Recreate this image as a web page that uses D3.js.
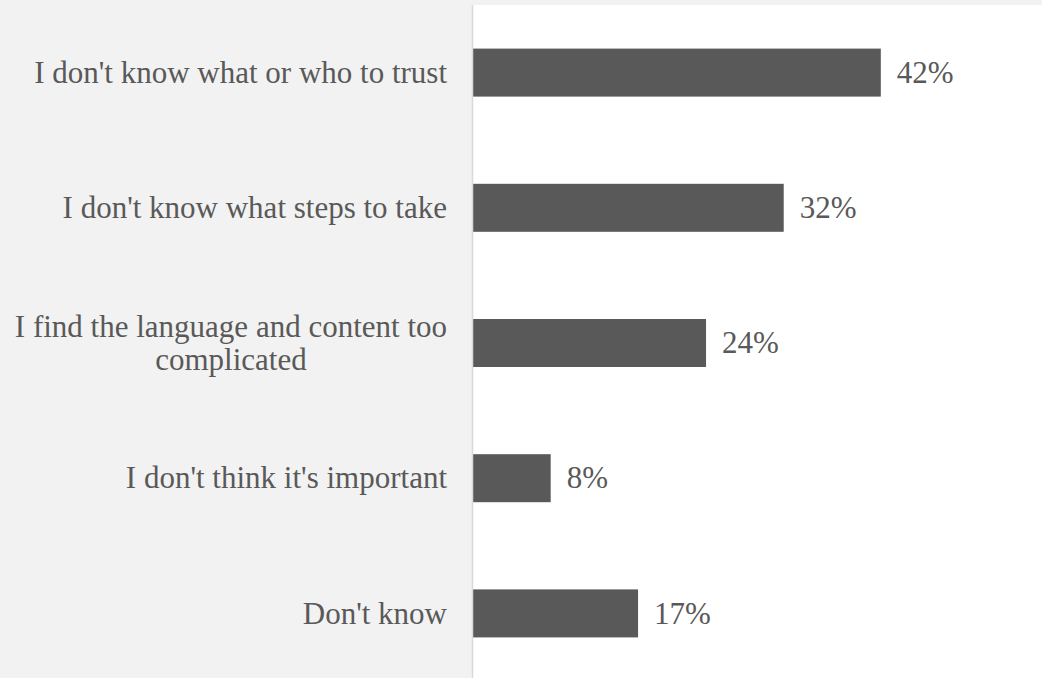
<!DOCTYPE html>
<html>
<head>
<meta charset="utf-8">
<script src="https://cdn.jsdelivr.net/npm/d3@7"></script>
<style>
  html, body { margin: 0; padding: 0; background: #f2f2f2; }
  svg { display: block; }
</style>
</head>
<body>
<svg id="chart" width="1042" height="678"></svg>
<script>
// Survey responses: reasons given, share of respondents (%)
const categories = [
  "I don't know what or who to trust",
  "I don't know what steps to take",
  "I find the language and content too complicated",
  "I don't think it's important",
  "Don't know"
];
const values = [42, 32, 24, 8, 17];
const valueLabels = values.map(v => v + "%");

const W = 1042, H = 678;
const plot = { left: 473, top: 5, right: 1042, bottom: 681 };
const font = "'Liberation Serif', 'Times New Roman', serif";
const textColor = "#595959";
const fontSize = 31;

const svg = d3.select("#chart");

svg.append("rect").attr("width", W).attr("height", H).attr("fill", "#f2f2f2");
svg.append("rect")
  .attr("x", plot.left).attr("y", plot.top)
  .attr("width", plot.right - plot.left).attr("height", H - plot.top)
  .attr("fill", "#ffffff");

const x = d3.scaleLinear().domain([0, 58.6]).range([plot.left, plot.right]);
const y = d3.scaleBand().domain(categories).range([plot.top, plot.bottom]).paddingInner(0.645).paddingOuter(0.3225);

// bars
svg.append("g").selectAll("rect").data(categories).join("rect")
  .attr("x", x(0))
  .attr("y", d => y(d))
  .attr("width", (d, i) => x(values[i]) - x(0))
  .attr("height", y.bandwidth())
  .attr("fill", "#595959");

// value labels
svg.append("g").selectAll("text").data(categories).join("text")
  .attr("x", (d, i) => x(values[i]) + 16)
  .attr("y", d => y(d) + y.bandwidth() / 2)
  .attr("dy", "0.33em")
  .attr("font-family", font)
  .attr("font-size", fontSize)
  .attr("fill", textColor)
  .text((d, i) => valueLabels[i]);

// category axis line
svg.append("line")
  .attr("x1", plot.left - 0.5).attr("x2", plot.left - 0.5)
  .attr("y1", plot.top).attr("y2", H)
  .attr("stroke", "#d9d9d9").attr("stroke-width", 1.5);

// category labels, wrapped to fit the left panel; lines centred within a right-aligned block
const labelRight = 447;
const maxWidth = 440;
const lineHeight = 33;
const measure = svg.append("text").attr("font-family", font).attr("font-size", fontSize).attr("visibility", "hidden");
function textWidth(s) { measure.text(s); return measure.node().getComputedTextLength(); }

const labelG = svg.append("g");
categories.forEach(cat => {
  const words = cat.split(" ");
  const lines = [];
  let cur = "";
  words.forEach(w => {
    const t = cur ? cur + " " + w : w;
    if (textWidth(t) > maxWidth && cur) { lines.push(cur); cur = w; } else cur = t;
  });
  lines.push(cur);
  const blockW = d3.max(lines, textWidth);
  const cx = labelRight - blockW / 2;
  const cy = y(cat) + y.bandwidth() / 2;
  const t = labelG.append("text")
    .attr("font-family", font)
    .attr("font-size", fontSize)
    .attr("fill", textColor)
    .attr("text-anchor", lines.length > 1 ? "middle" : "end");
  lines.forEach((ln, i) => {
    t.append("tspan")
      .attr("x", lines.length > 1 ? cx : labelRight)
      .attr("y", cy + (i - (lines.length - 1) / 2) * lineHeight)
      .attr("dy", "0.33em")
      .text(ln);
  });
});
measure.remove();
</script>
</body>
</html>
